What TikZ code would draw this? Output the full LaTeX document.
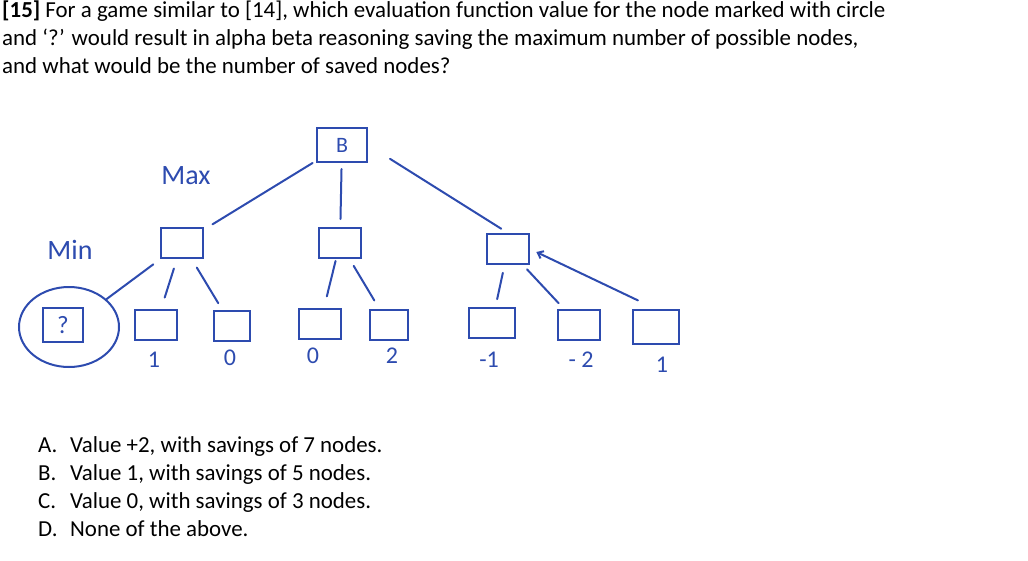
\documentclass[tikz,border=0pt]{standalone}
\usepackage{fontspec}
\setmainfont{Carlito}
\usetikzlibrary{arrows.meta,shapes.geometric}
\definecolor{pen}{RGB}{45,75,175}
\tikzset{
  box/.style={draw=pen,line width=2pt,minimum width=42pt,minimum height=30pt,inner sep=0pt,font=\fontsize{22}{22}\selectfont,text=pen},
  edge/.style={draw=pen,line width=2pt,line cap=round},
  hand/.style={text=pen,font=\fontsize{24}{24}\selectfont},
  qline/.style={anchor=base west,inner sep=0pt,font=\fontsize{22.9}{28}\selectfont}
}
\begin{document}
\begin{tikzpicture}[x=1pt,y=-1pt]
\useasboundingbox (0,0) rectangle (1028,560);

%question
\node[qline] (q1) at (2,17) {\textbf{[15]} For a game similar to [14], which evaluation function value for the node marked with circle};
\node[qline] (q2) at (2,45) {and `?' would result in alpha beta reasoning saving the maximum number of possible nodes,};
\node[qline] (q3) at (2,73) {and what would be the number of saved nodes?};

%tree
\node[box,minimum width=50pt,minimum height=34pt] (B) at (342,145) {B};
\node[hand,font=\fontsize{28}{28}\selectfont] (max) at (186,176) {Max};
\node[hand,font=\fontsize{28}{28}\selectfont] (min) at (70,250) {Min};

\node[box] (minL) at (182,243) {};
\node[box] (minM) at (340,243) {};
\node[box] (minR) at (508,249) {};

\node[box,minimum width=40pt,minimum height=34pt,font=\fontsize{25}{25}\selectfont] (q) at (63,325) {?};
\node[draw=pen,line width=2pt,ellipse,minimum width=100pt,minimum height=80pt] (circ) at (69,327) {};
\node[box] (l1) at (156,325) {};
\node[box,minimum width=36pt] (l2) at (232,326) {};
\node[box] (l3) at (320,324) {};
\node[box,minimum width=38pt] (l4) at (389,325) {};
\node[box,minimum width=46pt] (l5) at (492,323) {};
\node[box] (l6) at (579,325) {};
\node[box,minimum width=46pt,minimum height=34pt] (l7) at (656,327) {};

%values
\node[hand] (v1) at (154,360) {1};
\node[hand] (v2) at (230,358) {0};
\node[hand] (v3) at (313,356) {0};
\node[hand] (v4) at (392,356) {2};
\node[hand] (v5) at (489,360) {-1};
\node[hand] (v6) at (581,360) {- 2};
\node[hand] (v7) at (662,365) {1};

\draw[edge,shorten <=4pt,shorten >=10pt] (B) -- (minL);
\draw[edge,shorten <=6pt,shorten >=8pt] (B) -- (minM);
\draw[edge,shorten <=26pt,shorten >=8pt] (B.east) -- (minR.north);
\draw[edge,shorten <=9pt] (minL) -- (circ);
\draw[edge,shorten <=10pt,shorten >=12pt] (minL) -- (l1);
\draw[edge,shorten <=10pt,shorten >=8pt] (minL) -- (l2);
\draw[edge,shorten <=2pt,shorten >=12pt] (minM) -- (l3);
\draw[edge,shorten <=8pt,shorten >=10pt] (minM) -- (l4);
\draw[edge,shorten <=8pt,shorten >=8pt] (minR) -- (l5);
\draw[edge,shorten <=6pt,shorten >=8pt] (minR) -- (l6);
\draw[edge,-{Straight Barb[length=5pt,width=8pt]},shorten <=20pt,shorten >=7pt] (l7.north) -- (minR.east);

%answers
\foreach \lab/\txt [count=\i from 0] in {A./{Value +2, with savings of 7 nodes.},B./{Value 1, with savings of 5 nodes.},C./{Value 0, with savings of 3 nodes.},D./{None of the above.}}{
  \node[qline] (k\i) at (38,452+28*\i) {\lab};
  \node[qline] (a\i) at (70,452+28*\i) {\txt};
}
\end{tikzpicture}
\end{document}
